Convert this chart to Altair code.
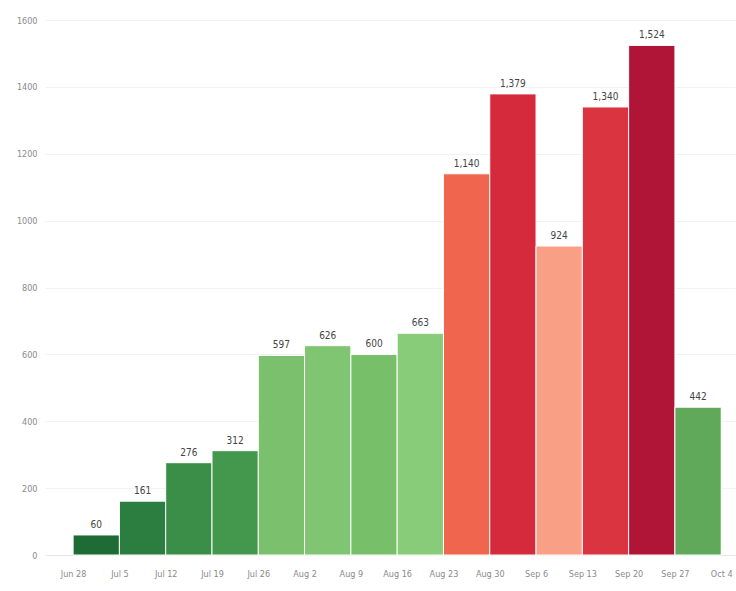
import altair as alt
import pandas as pd

# Weekly counts, one bar per week starting on the given date
week_start = ["2020-06-28", "2020-07-05", "2020-07-12", "2020-07-19", "2020-07-26",
              "2020-08-02", "2020-08-09", "2020-08-16", "2020-08-23", "2020-08-30",
              "2020-09-06", "2020-09-13", "2020-09-20", "2020-09-27"]
counts = [60, 161, 276, 312, 597, 626, 600, 663, 1140, 1379, 924, 1340, 1524, 442]
bar_colors = ["#1f6b36", "#2b7e3f", "#3a8e47", "#44984d", "#7bc16d", "#80c571",
              "#78bf6a", "#88cc79", "#f0654e", "#d42a3c", "#f99f86", "#d9343f",
              "#b01537", "#60a95a"]
tick_dates = week_start + ["2020-10-04"]

FONT = "DejaVu Sans Condensed, Liberation Sans, sans-serif"

starts = pd.to_datetime(week_start)
df = pd.DataFrame({
    "start": starts,
    "end": starts + pd.Timedelta(days=7),
    "mid": starts + pd.Timedelta(days=3, hours=12),
    "count": counts,
    "color": bar_colors,
    "label": [f"{c:,}" for c in counts],
})

x_scale = alt.Scale(domain=[alt.DateTime(year=2020, month=6, date=23, hours=18),
                            alt.DateTime(year=2020, month=10, date=6, hours=2)])
y_scale = alt.Scale(domain=[0, 1600], nice=False)

tick_values = [alt.DateTime(year=int(d[:4]), month=int(d[5:7]), date=int(d[8:])) for d in tick_dates]

bars = alt.Chart(df).mark_bar(stroke="white", strokeWidth=1).encode(
    x=alt.X("start:T", scale=x_scale,
            axis=alt.Axis(values=tick_values, format="%b %-d", title=None, grid=False,
                          labelFontSize=9, labelColor="#8a8a8a", labelPadding=14,
                          ticks=False, domainColor="#e6e6e6", labelFont=FONT)),
    x2="end:T",
    y=alt.Y("count:Q", scale=y_scale,
            axis=alt.Axis(values=list(range(0, 1601, 200)), format="d", title=None,
                          labelFontSize=9, labelColor="#8a8a8a", labelPadding=8,
                          ticks=False, domain=False, gridColor="#f2f2f2",
                          labelFont=FONT)),
    y2=alt.datum(0),
    color=alt.Color("color:N", scale=None),
)

labels = alt.Chart(df).mark_text(dy=-10, fontSize=10, color="#444444", font=FONT).encode(
    x=alt.X("mid:T", scale=x_scale),
    y=alt.Y("count:Q", scale=y_scale),
    text="label:N",
)

chart = (bars + labels).properties(
    width=690, height=535,
    padding={"left": 45, "top": 20, "right": 1, "bottom": 36},
    autosize=alt.AutoSizeParams(type="none"),
    background="white",
).configure_view(stroke=None)

chart.save("out.html", embed_options={"renderer": "svg", "actions": False})
